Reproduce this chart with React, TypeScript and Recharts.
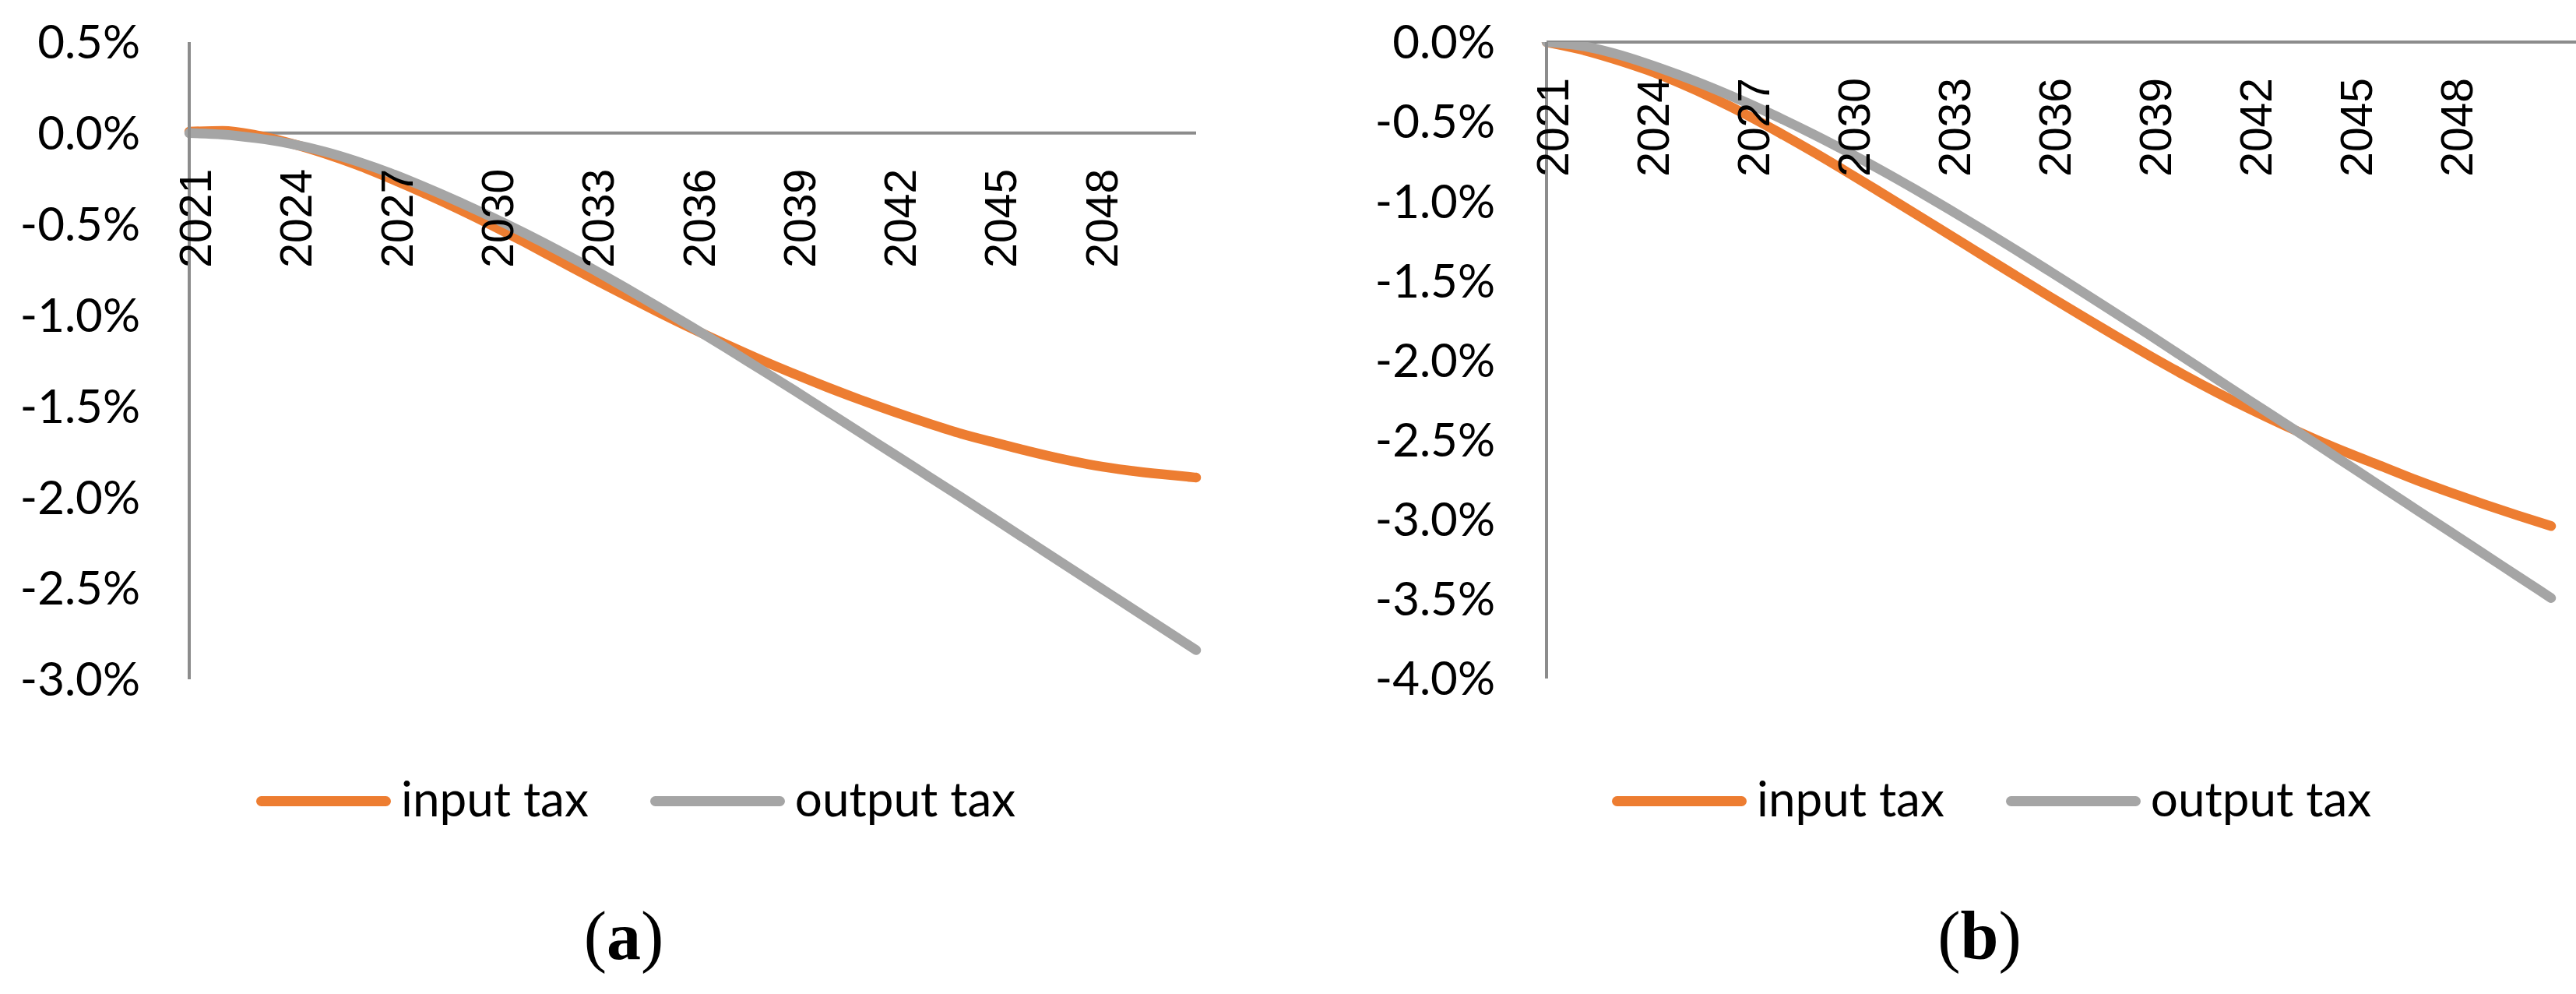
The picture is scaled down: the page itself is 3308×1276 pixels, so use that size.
import React from 'react';
import { LineChart, Line, XAxis, YAxis, ReferenceLine, ReferenceDot } from 'recharts';

// categories: one point per year
const years = [
    '2021', '2022', '2023', '2024', '2025', '2026', '2027', '2028', '2029', '2030',
    '2031', '2032', '2033', '2034', '2035', '2036', '2037', '2038', '2039', '2040',
    '2041', '2042', '2043', '2044', '2045', '2046', '2047', '2048', '2049', '2050', '2051',
];
// every third year is labelled
const tickYears = ['2021', '2024', '2027', '2030', '2033', '2036', '2039', '2042', '2045', '2048'];

// panel (a), in percent
const inputTaxA = [
    0.008, 0.012, -0.012, -0.055, -0.11, -0.175, -0.25, -0.33, -0.415, -0.505,
    -0.60, -0.698, -0.796, -0.892, -0.985, -1.075, -1.161, -1.243, -1.321, -1.395,
    -1.465, -1.531, -1.593, -1.651, -1.70, -1.747, -1.79, -1.826, -1.853, -1.874, -1.892,
];
const outputTaxA = [
    0.0, -0.008, -0.028, -0.058, -0.10, -0.155, -0.22, -0.295, -0.375, -0.46,
    -0.55, -0.645, -0.745, -0.85, -0.958, -1.068, -1.18, -1.295, -1.41, -1.528,
    -1.646, -1.764, -1.882, -2.0, -2.12, -2.24, -2.36, -2.48, -2.60, -2.72, -2.84,
];

// panel (b), in percent
const inputTaxB = [
    0.0, -0.045, -0.105, -0.175, -0.26, -0.355, -0.46, -0.575, -0.695, -0.82,
    -0.948, -1.077, -1.207, -1.337, -1.467, -1.596, -1.723, -1.848, -1.97, -2.088,
    -2.20, -2.306, -2.406, -2.50, -2.588, -2.671, -2.755, -2.832, -2.905, -2.975, -3.042,
];
const outputTaxB = [
    0.0, -0.022, -0.07, -0.135, -0.21, -0.293, -0.383, -0.48, -0.583, -0.692,
    -0.806, -0.925, -1.048, -1.175, -1.305, -1.437, -1.57, -1.705, -1.84, -1.978,
    -2.116, -2.254, -2.39, -2.528, -2.666, -2.804, -2.942, -3.08, -3.218, -3.356, -3.494,
];

const ticksA = [0.5, 0, -0.5, -1, -1.5, -2, -2.5, -3];
const ticksB = [0, -0.5, -1, -1.5, -2, -2.5, -3, -3.5, -4];

const seriesNames = ['input tax', 'output tax'];
const seriesColors = ['#ED7D31', '#A5A5A5'];
const axisColor = '#8C8C8C';

// rotated year label hung under the zero line
const yearShape = (year: string) => (p: any) => (
    <text
        transform={`translate(${p.cx + 28}, ${p.cy + 46}) rotate(-90)`}
        textAnchor="end"
        fontFamily="Liberation Sans"
        fontSize={57}
        fill="#000"
    >
        {year}
    </text>
);

interface PanelProps {
    input: number[];
    output: number[];
    domain: [number, number];
    ticks: number[];
    width: number;
    height: number;
    margin: { top: number; right: number; bottom: number; left: number };
    yWidth: number;
    tickMargin: number;
    padRight: number;
}

function TaxPanel({ input, output, domain, ticks, width, height, margin, yWidth, tickMargin, padRight }: PanelProps) {
    const data = years.map((year, i) => ({
        year,
        input: input[i],
        output: output[i],
    }));

    return (
        <LineChart width={width} height={height} data={data} margin={margin}>
            <XAxis dataKey="year" hide padding={{ left: 0, right: padRight }} />
            <YAxis
                domain={domain}
                ticks={ticks}
                interval={0}
                allowDataOverflow
                width={yWidth}
                tickLine={false}
                tickSize={0}
                tickMargin={tickMargin}
                axisLine={{ stroke: axisColor, strokeWidth: 4 }}
                tick={{ fontFamily: 'Lato', fontSize: 60, fill: '#000' }}
                tickFormatter={(v: number) => `${v.toFixed(1)}%`}
            />
            <ReferenceLine y={0} stroke={axisColor} strokeWidth={4} />
            <Line
                type="monotone"
                dataKey="input"
                name={seriesNames[0]}
                stroke={seriesColors[0]}
                strokeWidth={12.5}
                strokeLinecap="round"
                dot={false}
                activeDot={false}
                isAnimationActive={false}
            />
            <Line
                type="monotone"
                dataKey="output"
                name={seriesNames[1]}
                stroke={seriesColors[1]}
                strokeWidth={12.5}
                strokeLinecap="round"
                dot={false}
                activeDot={false}
                isAnimationActive={false}
            />
            {tickYears.map((yr) => (
                <ReferenceDot key={yr} x={yr} y={0} ifOverflow="visible" shape={yearShape(yr)} />
            ))}
        </LineChart>
    );
}

function TaxLegend({ left, top }: { left: number; top: number }) {
    return (
        <div
            style={{
                position: 'absolute',
                left,
                top,
                display: 'flex',
                alignItems: 'center',
                fontFamily: 'Lato',
                fontSize: 62,
                lineHeight: 1,
                color: '#000',
                whiteSpace: 'nowrap',
            }}
        >
            {seriesNames.map((name, i) => (
                <div key={name} style={{ display: 'flex', alignItems: 'center', marginRight: i === 0 ? 79 : 0 }}>
                    <div style={{ width: 173, height: 13, borderRadius: 7, background: seriesColors[i], marginRight: 13 }} />
                    <span style={{ position: 'relative', top: -4 }}>{name}</span>
                </div>
            ))}
        </div>
    );
}

function Caption({ center, letter }: { center: number; letter: string }) {
    return (
        <div
            style={{
                position: 'absolute',
                left: center - 150,
                top: 1158,
                width: 300,
                textAlign: 'center',
                fontFamily: 'Liberation Serif',
                fontSize: 88,
                lineHeight: 1,
                color: '#000',
            }}
        >
            (<b>{letter}</b>)
        </div>
    );
}

export default function App() {
    return (
        <div style={{ position: 'absolute', left: 0, top: 0, width: 3308, height: 1276, background: '#fff', overflow: 'hidden' }}>
            <div style={{ position: 'absolute', left: 0, top: 0 }}>
                <TaxPanel
                    input={inputTaxA}
                    output={outputTaxA}
                    domain={[-3, 0.5]}
                    ticks={ticksA}
                    width={1600}
                    height={950}
                    margin={{ top: 54, right: 64, bottom: 78, left: 0 }}
                    yWidth={243}
                    tickMargin={63}
                    padRight={0}
                />
            </div>
            <div style={{ position: 'absolute', left: 1650, top: 0 }}>
                <TaxPanel
                    input={inputTaxB}
                    output={outputTaxB}
                    domain={[-4, 0]}
                    ticks={ticksB}
                    width={1658}
                    height={950}
                    margin={{ top: 54, right: 0, bottom: 79, left: 0 }}
                    yWidth={336}
                    tickMargin={66}
                    padRight={32}
                />
            </div>
            <TaxLegend left={329} top={997} />
            <TaxLegend left={2070} top={997} />
            <Caption center={801} letter="a" />
            <Caption center={2542} letter="b" />
        </div>
    );
}
